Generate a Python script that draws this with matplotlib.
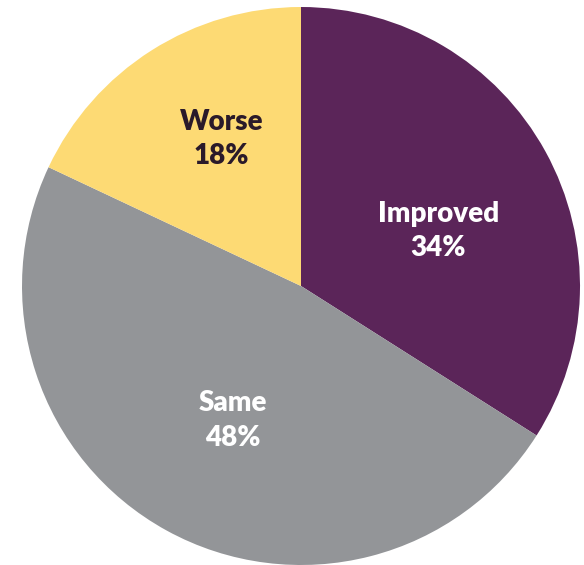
import matplotlib.pyplot as plt
import numpy as np

labels = ["Improved", "Same", "Worse"]
values = [34, 48, 18]
colors = ["#5b2559", "#939598", "#fdda74"]
text_colors = ["white", "white", "#2a1a2a"]
label_r = [0.53, 0.54, 0.60]
label_shift = [-7, 2, -4]  # degrees off the wedge middle

fig = plt.figure(figsize=(5.84, 5.65), dpi=100)
ax = fig.add_axes([22 / 584, 0.0, 558 / 584, 558 / 565])

wedges, _ = ax.pie(values, colors=colors, startangle=90, counterclock=False,
                   radius=1, wedgeprops=dict(linewidth=0))

for w, lab, v, tc, r, sh in zip(wedges, labels, values, text_colors, label_r, label_shift):
    mid = np.deg2rad((w.theta1 + w.theta2) / 2 + sh)
    ax.text(r * np.cos(mid), r * np.sin(mid), f"{lab}\n{v}%", ha="center", va="center",
            color=tc, fontsize=20, fontweight="heavy", family="Lato", linespacing=1.4)

ax.set_xlim(-1, 1)
ax.set_ylim(-1, 1)
ax.set_aspect("equal")
ax.axis("off")
fig.savefig("out.png", dpi=100)
